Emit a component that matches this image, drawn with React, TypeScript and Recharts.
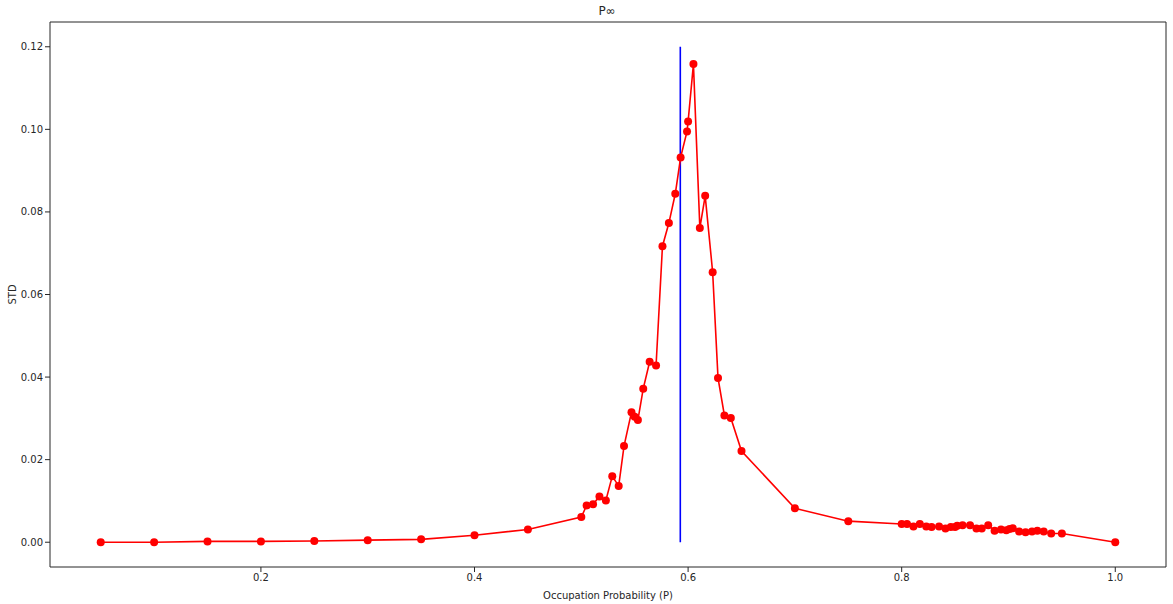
import { LineChart, Line, XAxis, YAxis, ReferenceLine } from 'recharts';

// Occupation probability (P) and the measured STD of P-infinity
const pValues = [
  0.05, 0.1, 0.15, 0.2, 0.25, 0.3, 0.35, 0.4, 0.45, 0.5,
  0.505, 0.511, 0.517, 0.523, 0.529, 0.535, 0.54,
  0.547, 0.55, 0.553, 0.558, 0.564, 0.57,
  0.576, 0.582, 0.588, 0.593, 0.599, 0.6, 0.605,
  0.611, 0.616, 0.623, 0.628, 0.634, 0.64, 0.65,
  0.7, 0.75,
  0.8, 0.805, 0.811, 0.817, 0.823, 0.828, 0.835, 0.841, 0.846, 0.85,
  0.852, 0.857, 0.864, 0.87, 0.875, 0.881, 0.887, 0.893, 0.898, 0.901,
  0.904, 0.91, 0.916, 0.922, 0.927, 0.933, 0.94, 0.95, 1.0,
];

const stdValues = [
  0.0, 0.0, 0.0002, 0.0002, 0.0003, 0.0005, 0.0007, 0.0017, 0.0031, 0.0061,
  0.0089, 0.0092, 0.0111, 0.0101, 0.016, 0.0136, 0.0233,
  0.0315, 0.0304, 0.0296, 0.0372, 0.0437, 0.0428,
  0.0717, 0.0773, 0.0844, 0.0932, 0.0995, 0.1019, 0.1158,
  0.0761, 0.0839, 0.0654, 0.0398, 0.0307, 0.0301, 0.0221,
  0.0082, 0.0051,
  0.0044, 0.0044, 0.0038, 0.0044, 0.0038, 0.0037, 0.0038, 0.0033, 0.0037, 0.0037,
  0.004, 0.0041, 0.0041, 0.0033, 0.0033, 0.0041, 0.0028, 0.0031, 0.0029, 0.0032,
  0.0034, 0.0026, 0.0024, 0.0026, 0.0028, 0.0026, 0.0021, 0.0021, 0.0,
];

// critical threshold marker
const pcX = [0.5927, 0.5927];
const pcY = [0, 0.12];

const xTicks = [0.2, 0.4, 0.6, 0.8, 1.0];
const yTicks = [0, 0.02, 0.04, 0.06, 0.08, 0.1, 0.12];

const data = pValues.map((p, i) => ({ p, std: stdValues[i] }));
const pcData = pcX.map((p, i) => ({ p, std: pcY[i] }));

const X_DOMAIN: [number, number] = [0.0025, 1.0475];
const Y_DOMAIN: [number, number] = [-0.006, 0.126];

const FONT = 'DejaVu Sans, sans-serif';
const tickStyle = { fill: '#262626', fontSize: 10, fontFamily: FONT };
const AXIS = '#262626';

export default function App() {
  return (
    <div style={{ position: 'absolute', left: 0, top: 0, width: 1173, height: 604, background: '#fff' }}>
      <div
        style={{
          position: 'absolute',
          left: 0,
          width: 1214,
          top: 4,
          textAlign: 'center',
          fontFamily: FONT,
          fontSize: 12,
          color: '#262626',
        }}
      >
        P∞
      </div>
      <LineChart width={1173} height={604} margin={{ top: 22, right: 7, bottom: 0, left: 0 }}>
        <XAxis
          dataKey="p"
          type="number"
          domain={X_DOMAIN}
          ticks={xTicks}
          tickFormatter={(v: number) => v.toFixed(1)}
          allowDataOverflow
          height={37}
          tick={tickStyle}
          tickSize={5}
          tickLine={{ stroke: AXIS }}
          axisLine={{ stroke: AXIS }}
          label={{
            value: 'Occupation Probability (P)',
            position: 'insideBottom',
            offset: 5,
            style: { fill: '#262626', fontSize: 10, fontFamily: FONT },
          }}
        />
        <YAxis
          dataKey="std"
          type="number"
          domain={Y_DOMAIN}
          ticks={yTicks}
          tickFormatter={(v: number) => v.toFixed(2)}
          allowDataOverflow
          width={50}
          tick={tickStyle}
          tickSize={5}
          tickLine={{ stroke: AXIS }}
          axisLine={{ stroke: AXIS }}
          label={{
            value: 'STD',
            angle: -90,
            position: 'insideLeft',
            offset: 12,
            style: { fill: '#262626', fontSize: 10, fontFamily: FONT, textAnchor: 'middle' },
          }}
        />
        {/* top and right frame lines */}
        <ReferenceLine y={Y_DOMAIN[1]} stroke={AXIS} strokeWidth={1} />
        <ReferenceLine x={X_DOMAIN[1]} stroke={AXIS} strokeWidth={1} />
        <Line
          data={pcData}
          dataKey="std"
          stroke="#0000ff"
          strokeWidth={1.6}
          dot={false}
          isAnimationActive={false}
        />
        <Line
          data={data}
          dataKey="std"
          stroke="#ff0000"
          strokeWidth={1.6}
          dot={{ r: 4, fill: '#ff0000', stroke: '#ff0000', strokeWidth: 0 }}
          isAnimationActive={false}
        />
      </LineChart>
    </div>
  );
}
